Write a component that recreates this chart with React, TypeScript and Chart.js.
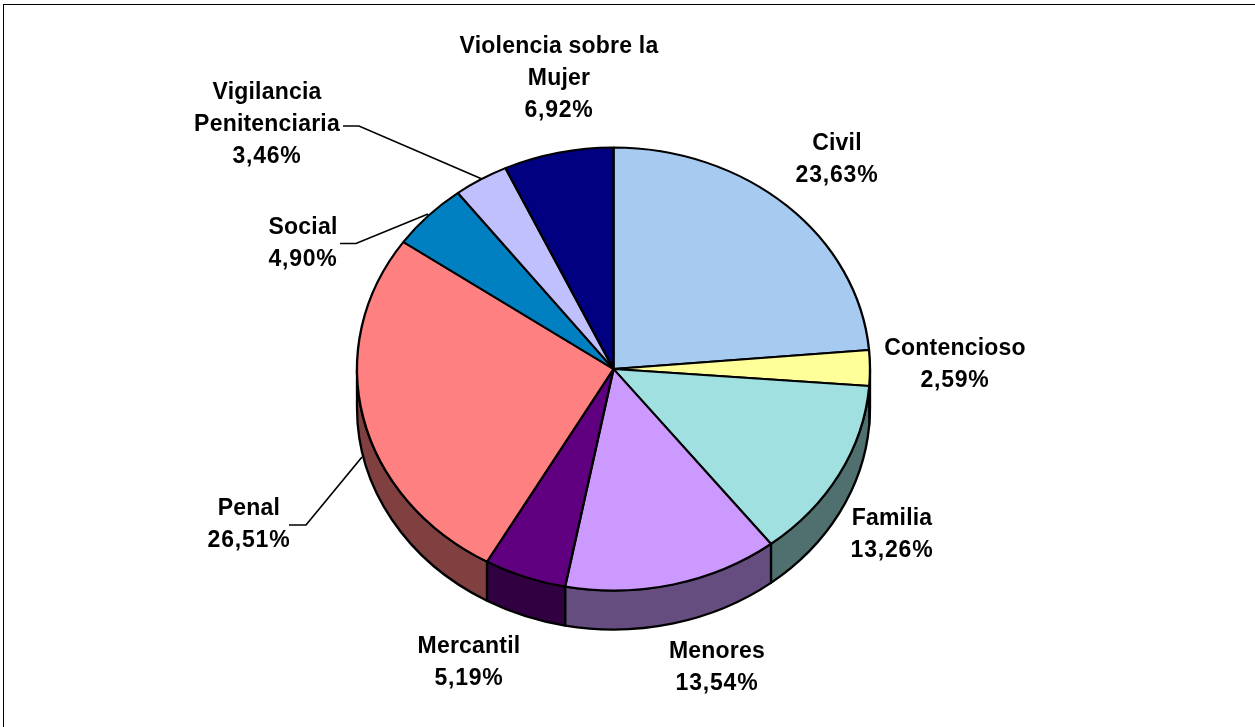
import React, { useEffect, useRef } from "react";
import { Chart, registerables } from "chart.js";

Chart.register(...registerables);

const categories = ["Civil", "Contencioso", "Familia", "Menores", "Mercantil", "Penal", "Social", "Vigilancia Penitenciaria", "Violencia sobre la Mujer"];
const shares = [23.63, 2.59, 13.26, 13.54, 5.19, 26.51, 4.9, 3.46, 6.92];
const colors = ["#A6CAF0", "#FFFF99", "#A0E0E0", "#CC99FF", "#600080", "#FF8080", "#0080C0", "#C0C0FF", "#000080"];
const wallColors = ["#536580", "#80804D", "#507070", "#664D80", "#300040", "#804040", "#004060", "#606080", "#000040"];

const labelLines: string[][] = [["Civil"], ["Contencioso"], ["Familia"], ["Menores"], ["Mercantil"], ["Penal"], ["Social"], ["Vigilancia", "Penitenciaria"], ["Violencia sobre la", "Mujer"]];
const labelX = [837, 955, 892, 717, 469, 249, 303, 267, 559];
const labelTop = [144, 349, 519, 652, 647, 509, 228, 93, 47];
const leaders: number[][][] = [
  [[343, 126], [359, 126], [482, 179]],
  [[340, 243.5], [356, 243.5], [428, 214]],
  [[289, 525], [306, 525], [362, 457]],
];

const CX = 613.5, CY = 369, RX = 256.5, RY = 221.5, DEPTH = 39;

const pie3d = {
  id: "pie3d",
  beforeDatasetsDraw(chart: any) {
    const ctx = chart.ctx;
    ctx.save();
    ctx.fillStyle = "#000";
    ctx.fillRect(3, 4, 1252, 1);
    ctx.fillRect(3, 4, 1, 723);
    const arcs = chart.getDatasetMeta(0).data;
    ctx.lineWidth = 2.3;
    ctx.strokeStyle = "#000";
    ctx.lineJoin = "round";
    arcs.forEach((arc: any, i: number) => {
      const a = Math.max(arc.startAngle, 0);
      const b = Math.min(arc.endAngle, Math.PI);
      if (b <= a) return;
      ctx.beginPath();
      ctx.ellipse(CX, CY, RX, RY, 0, a, b, false);
      ctx.lineTo(CX + RX * Math.cos(b), CY + RY * Math.sin(b) + DEPTH);
      ctx.ellipse(CX, CY + DEPTH, RX, RY, 0, b, a, true);
      ctx.closePath();
      ctx.fillStyle = wallColors[i];
      ctx.fill();
      ctx.stroke();
    });
    ctx.restore();
    const first = arcs[0];
    ctx.save();
    ctx.translate(CX, CY);
    ctx.scale(RX / first.outerRadius, RY / first.outerRadius);
    ctx.translate(-first.x, -first.y);
  },
  afterDatasetsDraw(chart: any) {
    const ctx = chart.ctx;
    ctx.restore();
    ctx.save();
    ctx.strokeStyle = "#000";
    ctx.lineWidth = 1.7;
    leaders.forEach((pts) => {
      ctx.beginPath();
      pts.forEach(([x, y], k) => (k ? ctx.lineTo(x, y) : ctx.moveTo(x, y)));
      ctx.stroke();
    });
    ctx.fillStyle = "#000";
    ctx.font = 'bold 23px "Liberation Sans", Arial, sans-serif';
    ctx.textAlign = "center";
    ctx.textBaseline = "middle";
    categories.forEach((_, i) => {
      const names = labelLines[i];
      ctx.letterSpacing = "0.2px";
      names.forEach((t, k) => ctx.fillText(t, labelX[i], labelTop[i] + k * 32));
      ctx.letterSpacing = "0.8px";
      ctx.fillText(shares[i].toFixed(2).replace(".", ",") + "%", labelX[i], labelTop[i] + names.length * 32);
    });
    ctx.restore();
  },
};

export default function App() {
  const ref = useRef<HTMLCanvasElement>(null);
  useEffect(() => {
    const chart = new Chart(ref.current!, {
      type: "pie",
      data: {
        labels: categories,
        datasets: [{ data: shares, backgroundColor: colors, borderColor: "#000", borderWidth: 2.3, clip: false } as any],
      },
      options: {
        responsive: false,
        animation: false,
        layout: { padding: { left: 357, right: 385, top: 107, bottom: 107 } },
        plugins: { legend: { display: false }, tooltip: { enabled: false } },
      },
      plugins: [pie3d],
    });
    return () => chart.destroy();
  }, []);
  return (
    <div style={{ position: "fixed", left: 0, top: 0, width: 1255, height: 727, background: "#fff" }}>
      <canvas ref={ref} width={1255} height={727} style={{ display: "block" }} />
    </div>
  );
}
